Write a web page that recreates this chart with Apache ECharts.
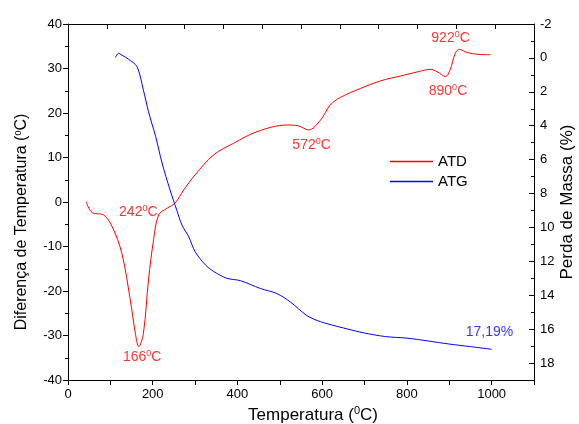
<!DOCTYPE html>
<html><head><meta charset="utf-8">
<script src="https://cdn.jsdelivr.net/npm/echarts@6/dist/echarts.min.js"></script>
<style>html,body{margin:0;padding:0;background:#fff}#c{width:579px;height:424px}</style>
</head><body><div id="c"></div>
<script>
// ATD (DTA) curve: temperature (°C) vs temperature difference (°C), left axis
const atdT = [43,57,84,104,127,147,159,167,178,190,202,214,234,253,273,300,344,391,446,517,544,568,596,619,643,690,737,784,832,855,871,891,902,914,924,942,966,997];
const atdV = [0,-2.4,-2.9,-5.5,-11.5,-22,-29.5,-32.5,-29.5,-17.5,-8.5,-2.9,-1.4,-0.2,2.7,6.1,10.6,13.2,15.8,17.3,17.1,16.2,18.4,21.8,23.5,25.5,27.2,28.3,29.4,29.8,29.3,28.2,29.7,33.4,34.3,33.6,33.2,33.1];
// ATG (TGA) curve: temperature (°C) vs mass loss (%), right axis (inverted)
const atgT = [112,119,127,143,163,178,190,207,222,241,257,269,285,300,324,344,375,407,454,493,525,564,596,650,700,750,800,850,900,950,1000];
const atgV = [-0.03,-0.27,-0.17,0.08,0.52,1.9,3.17,4.65,6.2,7.8,9.0,9.86,10.55,11.43,12.2,12.6,13.0,13.14,13.6,13.9,14.4,15.2,15.56,15.93,16.23,16.44,16.53,16.7,16.88,17.03,17.19];
// annotations
const atdNotes = [[175,-34.8,'166'],[166,-2.2,'242'],[575,12.8,'572'],[897,25.0,'890'],[903,36.8,'922']];
const atgNotes = [[995,16.15,'17,19%']];

const FONT = 'Liberation Sans, Arial, sans-serif';
const sup = {fontSize: 9, verticalAlign: 'top', padding: [0,0,7,0], fontFamily: FONT};
const supBig = {fontSize: 11, verticalAlign: 'top', padding: [0,0,8,0], fontFamily: FONT};
const chart = echarts.init(document.getElementById('c'), null, {renderer: 'canvas'});
chart.setOption({
  animation: false,
  grid: {left: 68, right: 45, top: 24, bottom: 44, containLabel: false, outerBoundsMode: 'none'},
  legend: {
    data: [{name: 'ATD', icon: 'rect'}, {name: 'ATG', icon: 'rect'}],
    orient: 'vertical', left: 385, top: 149,
    itemWidth: 43, itemHeight: 1.5, itemGap: 5,
    textStyle: {fontSize: 15, color: '#000', fontFamily: FONT}
  },
  xAxis: [{
    type: 'value', min: 0, max: 1100, interval: 100, position: 'bottom',
    name: 'Temperatura ({s|0}C)', nameLocation: 'middle', nameGap: 21,
    nameTextStyle: {fontSize: 17, color: '#000', fontFamily: FONT, padding: [0, 0, 0, 24], rich: {s: supBig}},
    axisLine: {onZero: false, lineStyle: {color: '#000', width: 1}},
    axisTick: {inside: false, length: 5, lineStyle: {color: '#000'}},
    axisLabel: {fontSize: 13, color: '#000', fontFamily: FONT, margin: 8,
      formatter: v => (v % 200 === 0 && v <= 1000) ? String(v) : ''},
    splitLine: {show: false}
  }, {
    type: 'value', min: 0, max: 1200, interval: 100, position: 'top',
    axisLine: {onZero: false, lineStyle: {color: '#000', width: 1}},
    axisTick: {inside: true, length: 5, lineStyle: {color: '#000'}},
    axisLabel: {show: false}, splitLine: {show: false}
  }],
  yAxis: [{
    type: 'value', min: -40, max: 40, interval: 10, position: 'left',
    name: 'Diferença de Temperatura ({s|0}C)', nameLocation: 'middle', nameGap: 38,
    nameTextStyle: {fontSize: 16, color: '#000', fontFamily: FONT, padding: [0, 40, 0, 0], rich: {s: sup}},
    axisLine: {show: true, onZero: false, lineStyle: {color: '#000', width: 1}},
    axisTick: {show: true, inside: false, length: 5, lineStyle: {color: '#000'}},
    minorTick: {show: true, splitNumber: 2, length: 3, lineStyle: {color: '#000'}},
    axisLabel: {fontSize: 13, color: '#000', fontFamily: FONT, margin: 6},
    splitLine: {show: false}
  }, {
    type: 'value', min: -2, max: 19, interval: 2, position: 'right', inverse: true,
    name: 'Perda de Massa (%)', nameLocation: 'middle', nameGap: 25, nameMoveOverlap: false,
    nameTextStyle: {fontSize: 17, color: '#000', fontFamily: FONT},
    axisLine: {show: true, onZero: false, lineStyle: {color: '#000', width: 1}},
    axisTick: {show: true, inside: true, length: 5, lineStyle: {color: '#000'}},
    minorTick: {show: true, splitNumber: 2, length: 3, lineStyle: {color: '#000'}},
    axisLabel: {fontSize: 13, color: '#000', fontFamily: FONT, margin: 6, showMaxLabel: false,
      formatter: v => (v % 2 === 0 && v <= 18) ? String(v) : ''},
    splitLine: {show: false}
  }],
  series: [{
    name: 'ATD', type: 'line', xAxisIndex: 0, yAxisIndex: 0, smooth: 0.35,
    symbol: 'none', lineStyle: {color: '#ff0000', width: 1}, itemStyle: {color: '#ff0000'},
    data: atdT.map((t, i) => [t, atdV[i]])
  }, {
    name: 'ATG', type: 'line', xAxisIndex: 0, yAxisIndex: 1, smooth: 0.3,
    symbol: 'none', lineStyle: {color: '#0000ff', width: 1}, itemStyle: {color: '#0000ff'},
    data: atgT.map((t, i) => [t, atgV[i]])
  }, {
    name: 'atdNotes', type: 'scatter', xAxisIndex: 0, yAxisIndex: 0, symbolSize: 0,
    silent: true,
    label: {show: true, position: 'inside', color: '#ff0000', fontSize: 14, fontFamily: FONT,
      formatter: p => p.data[2] + '{s|0}C', rich: {s: Object.assign({}, sup, {color: '#ff0000'})}},
    data: atdNotes
  }, {
    name: 'atgNotes', type: 'scatter', xAxisIndex: 0, yAxisIndex: 1, symbolSize: 0,
    silent: true,
    label: {show: true, position: 'inside', color: '#0000ff', fontSize: 14, fontFamily: FONT,
      formatter: p => p.data[2]},
    data: atgNotes
  }]
});
</script></body></html>
